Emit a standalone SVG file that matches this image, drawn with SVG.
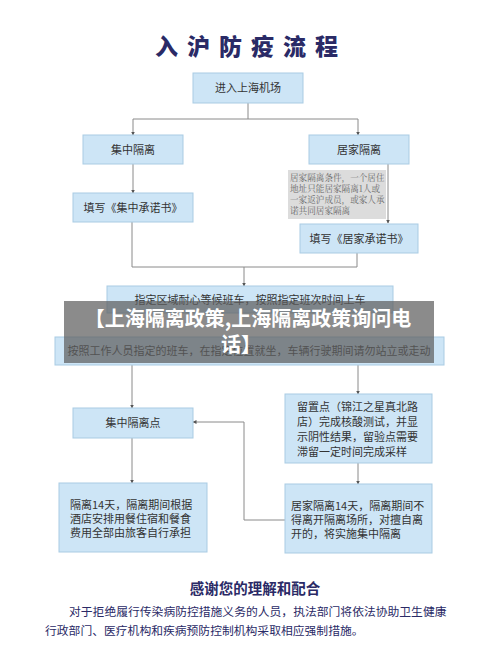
<svg xmlns="http://www.w3.org/2000/svg" width="500" height="666" viewBox="0 0 500 666">
<style>
.box{fill:#cde5f6;stroke:#a9cbe3;stroke-width:1}
.t{font-family:"Noto Sans CJK SC","Noto Sans",sans-serif;font-size:11px;fill:#333}
.tc{text-anchor:middle}
.note{fill:#dcdcdc}
.nt{font-family:"Noto Serif CJK SC","Noto Sans CJK SC",serif;font-size:8.6px;fill:#6a6a6a}
.ln{fill:none;stroke:#8a8a8a;stroke-width:1}
.navy{fill:#2a2a66;font-family:"Noto Sans CJK SC",sans-serif}
</style>
<defs>
<marker id="a" markerWidth="4" markerHeight="4" refX="3.5" refY="2" orient="auto" markerUnits="userSpaceOnUse">
<path d="M0,0 L4,2 L0,4 z" fill="#555"/>
</marker>
</defs>
<rect width="500" height="666" fill="#fff"/>
<text class="navy" x="251" y="55" font-size="23" font-weight="900" text-anchor="middle" letter-spacing="9">入沪防疫流程</text>

<g id="connectors">
<path class="ln" d="M248,103 V119 H133 V135" marker-end="url(#a)"/>
<path class="ln" d="M248,119 H358 V135" marker-end="url(#a)"/>
<path class="ln" d="M133,164 V193" marker-end="url(#a)"/>
<path class="ln" d="M388,164 V223" marker-end="url(#a)"/>
<path class="ln" d="M132,222 V267 H357 V253"/>
<path class="ln" d="M244,267 V286" marker-end="url(#a)"/>
<path class="ln" d="M132,365 V408" marker-end="url(#a)"/>
<path class="ln" d="M358,365 V394" marker-end="url(#a)"/>
<path class="ln" d="M132,438 V483" marker-end="url(#a)"/>
<path class="ln" d="M358,463 V484" marker-end="url(#a)"/>
<path class="ln" d="M285,520 H244 V422 H193" marker-end="url(#a)"/>
</g>

<g id="n1"><rect class="box" x="193" y="73" width="110" height="30"/><text class="t tc" x="248" y="92">进入上海机场</text></g>
<g id="n2"><rect class="box" x="83" y="135" width="100" height="29"/><text class="t tc" x="133" y="153.5">集中隔离</text></g>
<g id="n3"><rect class="box" x="309" y="135" width="100" height="29"/><text class="t tc" x="359" y="153.5">居家隔离</text></g>
<g id="note"><rect class="note" x="288" y="170" width="98" height="49"/>
<text class="nt" x="290" y="181">居家隔离条件，一个居住</text>
<text class="nt" x="290" y="192">地址只能居家隔离1人或</text>
<text class="nt" x="290" y="203">一家返沪成员，或家人承</text>
<text class="nt" x="290" y="214">诺共同居家隔离</text></g>
<g id="n4"><rect class="box" x="73" y="193" width="120" height="29"/><text class="t tc" x="133" y="211.5">填写《集中承诺书》</text></g>
<g id="n5"><rect class="box" x="300" y="224" width="118" height="29"/><text class="t tc" x="359" y="242.5">填写《居家承诺书》</text></g>
<g id="n6"><rect class="box" x="107" y="286" width="286" height="27"/><text class="t tc" x="250" y="304">指定区域耐心等候班车，按照指定班次时间上车</text></g>
<g id="n7"><rect class="box" x="55" y="337" width="389" height="28"/><text class="t tc" x="249" y="355">按照工作人员指定的班车，在指定位置就坐，车辆行驶期间请勿站立或走动</text></g>
<g id="n8"><rect class="box" x="73" y="408" width="120" height="30"/><text class="t tc" x="133" y="427">集中隔离点</text></g>
<g id="n9"><rect class="box" x="285" y="394" width="147" height="69"/>
<text class="t" x="297" y="411">留置点（锦江之星真北路</text>
<text class="t" x="297" y="426">店）完成核酸测试，并显</text>
<text class="t" x="297" y="441">示阴性结果，留验点需要</text>
<text class="t" x="297" y="456">滞留一定时间完成采样</text></g>
<g id="n10"><rect class="box" x="59" y="483" width="148" height="69"/>
<text class="t" x="70" y="509">隔离14天，隔离期间根据</text>
<text class="t" x="70" y="523">酒店安排用餐住宿和餐食</text>
<text class="t" x="70" y="537">费用全部由旅客自行承担</text></g>
<g id="n11"><rect class="box" x="285" y="484" width="147" height="69"/>
<text class="t" x="291" y="510">居家隔离14天，隔离期间不</text>
<text class="t" x="291" y="524">得离开隔离场所，对擅自离</text>
<text class="t" x="291" y="538">开的，将实施集中隔离</text></g>

<g id="banner"><rect x="64" y="301" width="370" height="62" fill="#5e5e5e" fill-opacity="0.72"/>
<text x="248" y="326" font-family="Noto Sans CJK SC,sans-serif" font-size="20" font-weight="700" fill="#fff" text-anchor="middle">【上海隔离政策,上海隔离政策询问电</text>
<text x="241" y="352" font-family="Noto Sans CJK SC,sans-serif" font-size="20" font-weight="700" fill="#fff" text-anchor="middle">话】</text></g>

<text class="navy" x="255" y="594" font-size="14.5" font-weight="700" text-anchor="middle">感谢您的理解和配合</text>
<text class="navy" x="69" y="616" font-size="11.8">对于拒绝履行传染病防控措施义务的人员，执法部门将依法协助卫生健康</text>
<text class="navy" x="45" y="635" font-size="11.8">行政部门、医疗机构和疾病预防控制机构采取相应强制措施。</text>
</svg>
